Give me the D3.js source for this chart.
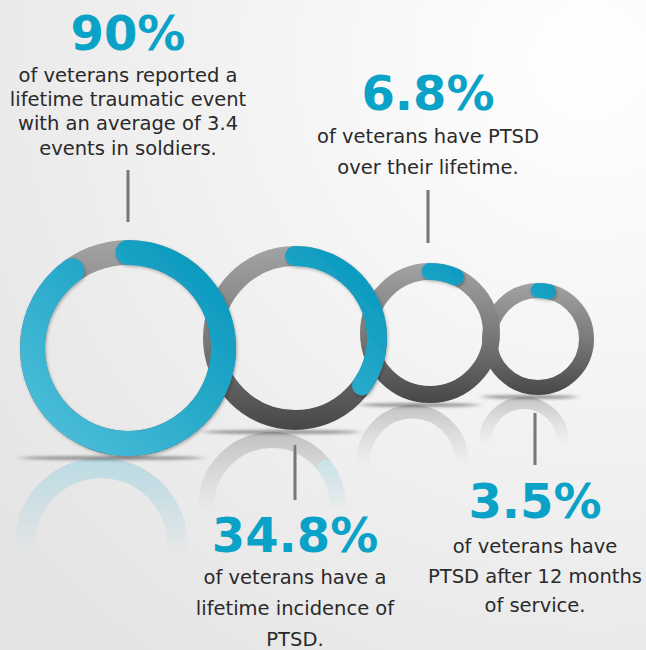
<!DOCTYPE html>
<html>
<head>
<meta charset="utf-8">
<script src="https://cdn.jsdelivr.net/npm/d3@7"></script>
<style>
  html, body { margin: 0; padding: 0; }
  svg { display: block; }
</style>
</head>
<body>
<div id="container"></div>
<script>
// define constants
const WIDTH = 646;
const HEIGHT = 650;

// chart data
const values = [90, 34.8, 6.8, 3.5];
const headlines = ["90%", "34.8%", "6.8%", "3.5%"];
const captions = [
    ["of veterans reported a", "lifetime traumatic event", "with an average of 3.4", "events in soldiers."],
    ["of veterans have a", "lifetime incidence of", "PTSD."],
    ["of veterans have PTSD", "over their lifetime."],
    ["of veterans have", "PTSD after 12 months", "of service."]
];

// ring layout (outer radius, stroke width)
const rings = [
    { cx: 128, cy: 348, r: 108, w: 25 },
    { cx: 295, cy: 338, r: 92, w: 20 },
    { cx: 430, cy: 333, r: 70, w: 17 },
    { cx: 538, cy: 339, r: 56, w: 15 }
];

// label layout
const labelPos = [
    { x: 128, head: 50, first: 82, step: 24.2, line: [170, 222] },
    { x: 295, head: 552, first: 584, step: 31, line: [445, 500] },
    { x: 428, head: 110, first: 143, step: 31, line: [190, 243] },
    { x: 535, head: 518, first: 553, step: 29.5, line: [413, 465] }
];

const BLUE = "#0aa2c6";
const FONT = "'DejaVu Sans', 'Noto Sans', sans-serif";

const angle = d3.scaleLinear().domain([0, 100]).range([0, 2 * Math.PI]);

// create svg element
const svg = d3.select("#container")
    .append("svg")
    .attr("width", WIDTH)
    .attr("height", HEIGHT);

const defs = svg.append("defs");

// background
const bg = defs.append("radialGradient")
    .attr("id", "bg")
    .attr("gradientUnits", "userSpaceOnUse")
    .attr("cx", 590).attr("cy", 60).attr("r", 760);
bg.append("stop").attr("offset", "0%").attr("stop-color", "#ffffff");
bg.append("stop").attr("offset", "35%").attr("stop-color", "#f6f6f6");
bg.append("stop").attr("offset", "100%").attr("stop-color", "#e4e4e4");

svg.append("rect")
    .attr("width", WIDTH)
    .attr("height", HEIGHT)
    .attr("fill", "url(#bg)");

// blur for the floor shadows
defs.append("filter").attr("id", "blur")
    .attr("x", "-20%").attr("y", "-300%").attr("width", "140%").attr("height", "700%")
    .append("feGaussianBlur").attr("stdDeviation", "4 1.5");

// soft shadow under the blue arcs (region in the ring's own space)
defs.append("filter").attr("id", "capShadow")
    .attr("filterUnits", "userSpaceOnUse")
    .attr("x", -130).attr("y", -130).attr("width", 260).attr("height", 260)
    .append("feDropShadow")
    .attr("dx", 1).attr("dy", 1.5).attr("stdDeviation", 1.5)
    .attr("flood-color", "#000").attr("flood-opacity", 0.3);

// gradients for each ring, in the ring's own coordinates
rings.forEach((p, i) => {
    const g = defs.append("linearGradient")
        .attr("id", "gray" + i)
        .attr("gradientUnits", "userSpaceOnUse")
        .attr("x1", 0).attr("y1", -p.r).attr("x2", 0).attr("y2", p.r);
    g.append("stop").attr("offset", "0%").attr("stop-color", "#a3a3a3");
    g.append("stop").attr("offset", "50%").attr("stop-color", "#7a7a7a");
    g.append("stop").attr("offset", "100%").attr("stop-color", "#474747");

    const b = defs.append("linearGradient")
        .attr("id", "blue" + i)
        .attr("gradientUnits", "userSpaceOnUse")
        .attr("x1", p.r).attr("y1", -p.r).attr("x2", -p.r).attr("y2", p.r);
    b.append("stop").attr("offset", "0%").attr("stop-color", "#0094bb");
    b.append("stop").attr("offset", "100%").attr("stop-color", "#55c2dc");

    const bot = p.cy + p.r;
    const m = defs.append("linearGradient")
        .attr("id", "fade" + i)
        .attr("gradientUnits", "userSpaceOnUse")
        .attr("x1", 0).attr("y1", bot).attr("x2", 0).attr("y2", bot + p.r * 0.9);
    m.append("stop").attr("offset", "0%").attr("stop-color", "#fff").attr("stop-opacity", 1);
    m.append("stop").attr("offset", "100%").attr("stop-color", "#fff").attr("stop-opacity", 0);
    defs.append("mask").attr("id", "mask" + i)
        .append("rect")
        .attr("x", 0).attr("y", bot).attr("width", WIDTH).attr("height", HEIGHT - bot)
        .attr("fill", "url(#fade" + i + ")");
});

// draw one ring: gray track plus blue value arc
const drawRing = (g, i, shadow) => {
    const p = rings[i];
    const rm = p.r - p.w / 2;
    g.append("circle")
        .attr("r", rm)
        .attr("fill", "none")
        .attr("stroke", "url(#gray" + i + ")")
        .attr("stroke-width", p.w);
    const path = d3.path();
    path.arc(0, 0, rm, -Math.PI / 2, angle(values[i]) - Math.PI / 2);
    g.append("path")
        .attr("d", path.toString())
        .attr("fill", "none")
        .attr("stroke", "url(#blue" + i + ")")
        .attr("stroke-width", p.w)
        .attr("stroke-linecap", "round")
        .attr("filter", shadow ? "url(#capShadow)" : null);
};

// reflections on the floor
rings.forEach((p, i) => {
    const bot = p.cy + p.r;
    const s = 0.8;
    const outer = svg.append("g")
        .attr("mask", "url(#mask" + i + ")")
        .attr("opacity", 0.28);
    const inner = outer.append("g")
        .attr("transform", "translate(" + (p.cx - p.r * 0.25) + "," + (bot + 2) + ") scale(" + s + "," + (-s) + ") translate(0," + (-p.r) + ")");
    drawRing(inner, i, false);
});

// floor shadows
rings.forEach((p, i) => {
    svg.append("ellipse")
        .attr("cx", p.cx - p.r * 0.15)
        .attr("cy", p.cy + p.r + 2)
        .attr("rx", p.r * 0.85)
        .attr("ry", 2)
        .attr("fill", "#333")
        .attr("opacity", 0.5)
        .attr("filter", "url(#blur)");
});

// rings, back to front
for (let i = rings.length - 1; i >= 0; i--) {
    const p = rings[i];
    const g = svg.append("g")
        .attr("transform", "translate(" + p.cx + "," + p.cy + ")");
    drawRing(g, i, true);
}

// connector lines and labels
labelPos.forEach((l, i) => {
    svg.append("line")
        .attr("x1", l.x).attr("x2", l.x)
        .attr("y1", l.line[0]).attr("y2", l.line[1])
        .attr("stroke", "#c4c4c4")
        .attr("stroke-width", 4);
    svg.append("line")
        .attr("x1", l.x).attr("x2", l.x)
        .attr("y1", l.line[0]).attr("y2", l.line[1])
        .attr("stroke", "#777")
        .attr("stroke-width", 2.5);

    svg.append("text")
        .attr("x", l.x)
        .attr("y", l.head)
        .attr("text-anchor", "middle")
        .attr("font-family", FONT)
        .attr("font-weight", "bold")
        .attr("font-size", 48)
        .attr("fill", BLUE)
        .text(headlines[i]);

    svg.append("g")
        .selectAll("text")
        .data(captions[i])
        .enter()
        .append("text")
        .attr("x", l.x)
        .attr("y", (d, j) => l.first + j * l.step)
        .attr("text-anchor", "middle")
        .attr("font-family", FONT)
        .attr("font-size", 19.5)
        .attr("fill", "#2a2a2a")
        .text((d) => d);
});
</script>
</body>
</html>
